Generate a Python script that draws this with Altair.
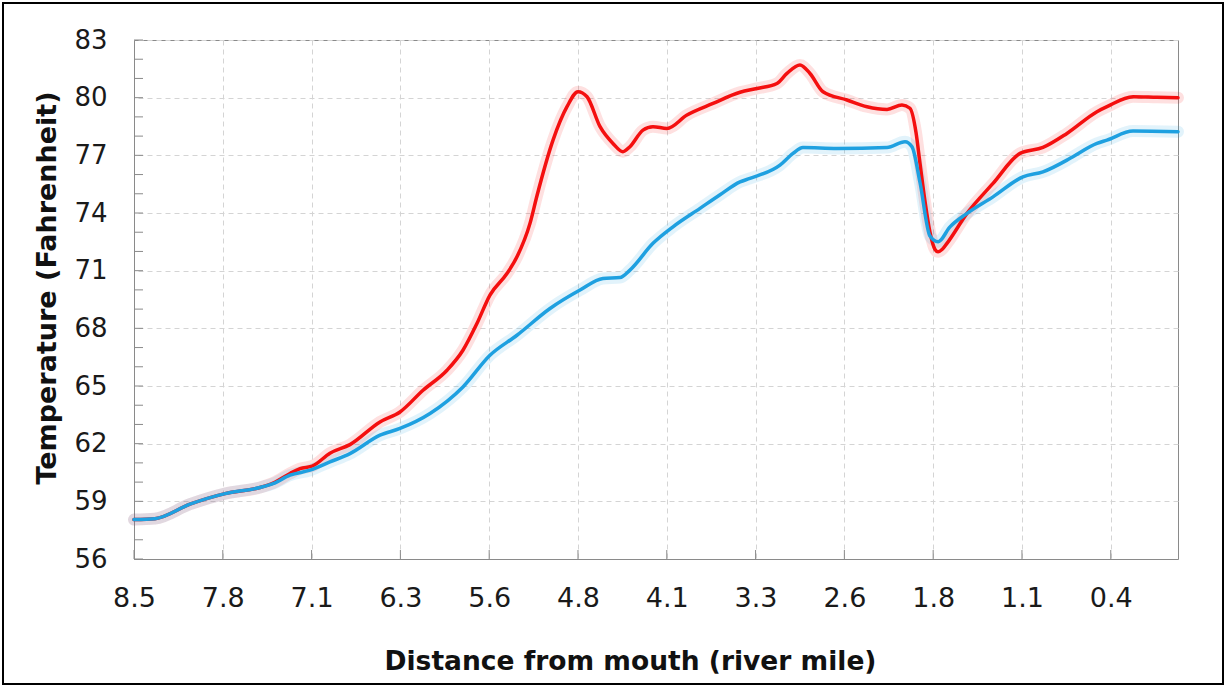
import altair as alt
import pandas as pd

# ---------------- data ----------------
tick_labels = ["8.5", "7.8", "7.1", "6.3", "5.6", "4.8", "4.1", "3.3", "2.6", "1.8", "1.1", "0.4"]
tick_start = 8.5
tick_step = 0.7364
x_end = -0.158
y_title = "Temperature (Fahrenheit)"
x_title = "Distance from mouth (river mile)"

red_mile = [8.500, 8.326, 8.036, 7.745, 7.455, 7.347, 7.206, 7.123, 7.016, 6.875, 6.709, 6.460,
            6.294, 6.103, 5.904, 5.772, 5.656, 5.548, 5.407, 5.324, 5.216, 5.158, 5.025, 4.909,
            4.818, 4.743, 4.635, 4.528, 4.445, 4.387, 4.279, 4.196, 4.080, 3.914, 3.698, 3.474,
            3.333, 3.168, 3.085, 2.977, 2.894, 2.786, 2.587, 2.421, 2.255, 2.131, 2.065, 2.015,
            1.982, 1.940, 1.899, 1.857, 1.832, 1.799, 1.758, 1.592, 1.376, 1.152, 0.962, 0.763,
            0.514, 0.431, 0.215, 0.016, -0.158]
red_temp = [58.05, 58.10, 58.85, 59.40, 59.72, 59.95, 60.45, 60.70, 60.85, 61.50, 61.95, 63.13,
            63.65, 64.78, 65.82, 66.86, 68.25, 69.73, 70.85, 71.72, 73.46, 74.90, 77.79, 79.53,
            80.31, 80.05, 78.49, 77.62, 77.19, 77.45, 78.31, 78.49, 78.40, 79.10, 79.70, 80.28,
            80.48, 80.74, 81.26, 81.70, 81.26, 80.31, 79.88, 79.53, 79.39, 79.62, 79.45, 78.20,
            76.60, 74.60, 73.00, 72.10, 71.98, 72.10, 72.42, 73.98, 75.54, 77.10, 77.41, 78.14,
            79.27, 79.53, 80.05, 80.02, 80.00]

blue_mile = [8.500, 8.326, 8.036, 7.745, 7.455, 7.347, 7.206, 7.040, 6.875, 6.709, 6.460, 6.294,
             6.045, 5.772, 5.548, 5.324, 5.050, 4.801, 4.611, 4.470, 4.387, 4.196, 4.030, 3.806,
             3.640, 3.474, 3.392, 3.143, 3.035, 2.952, 2.670, 2.255, 2.106, 2.048, 1.982, 1.899,
             1.832, 1.733, 1.592, 1.376, 1.128, 0.962, 0.763, 0.713, 0.514, 0.431, 0.215, -0.158]
blue_temp = [58.05, 58.10, 58.85, 59.40, 59.72, 59.92, 60.36, 60.62, 61.05, 61.48, 62.44, 62.79,
             63.57, 64.95, 66.60, 67.64, 69.03, 69.99, 70.59, 70.64, 71.03, 72.42, 73.28, 74.24,
             74.95, 75.62, 75.80, 76.49, 77.10, 77.41, 77.36, 77.41, 77.71, 77.45, 75.60, 72.80,
             72.50, 73.28, 73.98, 74.84, 75.88, 76.14, 76.75, 76.93, 77.62, 77.79, 78.26, 78.23]

y_major = list(range(56, 84, 3))
y_minor = list(range(56, 84))

# ---------------- layout / style ----------------
W, H = 1044, 519
RED = "#f40f0f"
BLUE = "#1ea0e0"
GRID = "#d4d4d4"
AXIS = "#8a8a8a"

tick_vals = [tick_start - i * tick_step for i in range(len(tick_labels))]
label_expr = "[" + ",".join("'%s'" % t for t in tick_labels) + "][round((%s - datum.value) / %s)]" % (tick_start, tick_step)

red_df = pd.DataFrame({"mile": red_mile, "temp": red_temp})
blue_df = pd.DataFrame({"mile": blue_mile, "temp": blue_temp})
xt_df = pd.DataFrame({"mile": tick_vals})
yt_df = pd.DataFrame({"temp": y_minor})
one_df = pd.DataFrame({"t": [y_title]})

x_scale = alt.Scale(domain=[x_end, tick_start], reverse=True, nice=False, zero=False)
y_scale = alt.Scale(domain=[56, 83], nice=False, zero=False)

x_axis = alt.Axis(values=tick_vals, labelExpr=label_expr, grid=True, gridDash=[5, 4],
                  gridColor=GRID, tickSize=0, labelPadding=26, labelFlush=False,
                  labelOverlap=False, labelFont="DejaVu Sans",
                  labelFontSize=27, labelColor="#1a1a1a", domainColor=AXIS,
                  title=x_title, titleFont="DejaVu Sans",
                  titleFontWeight="bold", titleFontSize=26.5, titleColor="#111111",
                  titleX=496, titleY=110, titleBaseline="alphabetic", titleAlign="center",
                  titleLimit=800)
y_axis = alt.Axis(values=y_major, grid=True, gridDash=[5, 4], gridColor=GRID, tickSize=0,
                  labelPadding=27, labelFont="DejaVu Sans", labelFontSize=26,
                  labelColor="#1a1a1a", domainColor=AXIS, title=None)

X = alt.X("mile:Q", scale=x_scale, axis=x_axis)
Y = alt.Y("temp:Q", scale=y_scale, axis=y_axis)


def line(df, color, width, opacity):
    return alt.Chart(df).mark_line(color=color, strokeWidth=width, opacity=opacity,
                                   interpolate="monotone", strokeCap="round",
                                   strokeJoin="round").encode(x=X, y=Y)


red_glow = line(red_df, RED, 12, 0.13)
blue_glow = line(blue_df, BLUE, 12, 0.13)
red_line = line(red_df, RED, 3.5, 1)
blue_line = line(blue_df, BLUE, 3.5, 1)

x_ticks = alt.Chart(xt_df).mark_rule(color=AXIS, strokeWidth=1).encode(
    x=X, y=alt.value(H), y2=alt.value(H - 9))
y_ticks = alt.Chart(yt_df).mark_rule(color=AXIS, strokeWidth=1).encode(
    y=Y, x=alt.value(0), x2=alt.value(9))

y_title_mark = alt.Chart(one_df).mark_text(
    angle=270, font="DejaVu Sans", fontWeight="bold", fontSize=27, color="#111111",
    align="center", baseline="alphabetic", limit=900).encode(
    text="t:N", x=alt.value(-78), y=alt.value(248))

frame = alt.Chart(one_df).mark_rect(fillOpacity=0, stroke="#000000", strokeWidth=2).encode(
    x=alt.value(-131), x2=alt.value(1089), y=alt.value(-37), y2=alt.value(644))

chart = alt.layer(x_ticks, y_ticks, red_glow, blue_glow, red_line, blue_line,
                  y_title_mark, frame).properties(
    width=W, height=H,
    autosize=alt.AutoSizeParams(type="none"),
    padding={"left": 134, "top": 40, "right": 47, "bottom": 127},
    background="white",
).configure_view(stroke=AXIS, strokeWidth=1)

chart.save("out.html", embed_options={"renderer": "svg", "actions": False})
